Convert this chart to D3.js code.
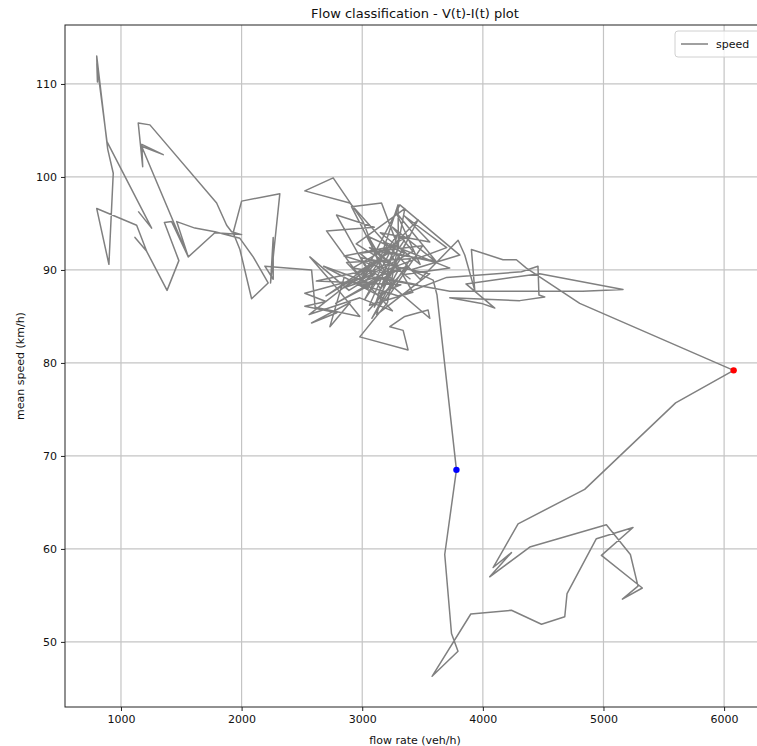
<!DOCTYPE html>
<html>
<head>
<meta charset="utf-8">
<script src="https://cdn.jsdelivr.net/npm/d3@7"></script>
<style>
  body { margin: 0; background: #fff; }
  svg { display: block; }
  text { font-family: "DejaVu Sans", sans-serif; }
</style>
</head>
<body>
<svg id="chart" width="757" height="746"></svg>
<script>
// Trajectory of the traffic state: flow rate (veh/h) against mean speed (km/h), in time order
const flowRate = [
  1143, 1254, 884, 800, 805, 799, 890, 936, 900, 799,
  1130, 1213, 1116, 1213, 1382, 1480, 1360, 1420, 1558, 1171,
  1350, 1173, 1180, 1143, 1240, 1793, 1876, 1917, 2000, 1778,
  1558, 1462, 1613, 1779, 1986, 2096, 2220, 2083, 1986, 1930,
  2000, 2317, 2240, 2262, 2262, 2193, 2580,
  2610, 2980, 2760, 2566, 2890, 3100, 2524, 2700, 2524, 2790,
  2580, 2900, 2732, 2850, 3050, 2704, 3100, 2787, 3020, 3250,
  2911, 3160, 3300, 3297, 3150, 2950, 3353, 3210, 2980, 3380,
  3339, 3229, 3353, 3546, 3560, 3200, 3463, 3000, 3312, 3809,
  3400, 3588, 3620, 3781,
  3684, 3740, 3794, 3579, 3900, 4237, 4486, 4679, 4698, 4941,
  5245, 4983, 5322, 5157, 5286, 5223, 5024, 4389, 4057, 4237,
  4085, 4292, 4844, 5598, 6079,
  4803, 4361, 4278, 4167, 3905, 3933, 3850, 3795, 3480, 3200,
  2897, 2524, 2759, 3007, 3150, 2850, 3280, 3060, 3420, 3180,
  3726, 3350, 3120, 3600, 3250, 3420, 2950, 3300, 3700, 4320,
  4457, 4465, 4513, 4306, 3726, 3989, 4099, 3860, 4471, 5162,
  4828, 3726, 3180, 3100, 3280, 2990, 3150, 3350, 3050, 3230,
  2920, 3400, 3130, 3320, 2620, 3050, 2700, 3180, 2560, 2980,
  3250, 2870, 3400, 3080, 3300, 2780, 3150, 3460, 2940, 3230,
  3020, 3350, 3100, 2680, 3200, 3500, 2980, 3270, 3050, 3380,
  2830, 3190, 3560, 3120, 3290, 3000, 3240, 3700, 3350, 3560,
  3150, 3480, 3280, 3620, 3060, 3400
];
const meanSpeed = [
  96.3, 94.5, 103.8, 112.2, 110.2, 113.0, 103.0, 100.4, 90.6, 96.6,
  94.8, 92.0, 93.5, 92.0, 87.8, 91.0, 95.1, 95.2, 91.4, 103.3,
  102.4, 103.5, 101.1, 105.8, 105.6, 97.2, 94.8, 94.1, 93.8, 94.0,
  91.4, 95.2, 94.5, 94.1, 93.4, 91.4, 88.6, 86.9, 92.2, 94.0,
  97.4, 98.2, 88.6, 93.5, 89.0, 90.4, 90.0,
  86.0, 85.0, 88.5, 91.4, 87.8, 89.5, 87.5, 86.6, 86.1, 85.4,
  84.3, 86.5, 83.9, 89.2, 88.0, 94.2, 94.6, 95.9, 90.5, 88.2,
  96.8, 97.2, 92.4, 97.0, 91.2, 92.8, 96.6, 86.5, 82.8, 81.4,
  83.5, 83.9, 85.0, 85.7, 84.8, 88.8, 95.4, 89.2, 97.0, 91.6,
  90.0, 88.9, 87.3, 68.5,
  59.4, 50.9, 49.0, 46.3, 53.0, 53.4, 51.9, 52.7, 55.2, 61.1,
  62.3, 59.3, 55.8, 54.6, 56.0, 59.4, 62.6, 60.2, 57.0, 59.6,
  58.0, 62.7, 66.4, 75.7, 79.2,
  86.4, 90.2, 91.1, 91.1, 92.2, 87.8, 91.6, 93.2, 89.0, 92.8,
  97.2, 98.5, 99.9, 95.2, 90.3, 91.5, 92.6, 86.2, 87.6, 93.0,
  90.2, 89.5, 92.0, 91.0, 94.6, 92.0, 88.6, 87.2, 89.2, 89.8,
  90.4, 87.3, 87.1, 86.7, 87.0, 86.4, 85.9, 88.5, 89.6, 87.9,
  87.7, 87.7, 89.0, 86.0, 90.6, 91.3, 88.0, 91.8, 93.6, 89.6,
  90.2, 93.8, 87.4, 88.4, 88.8, 90.0, 87.2, 91.5, 85.2, 87.0,
  85.6, 90.8, 91.2, 84.8, 90.0, 86.4, 89.2, 88.4, 89.6, 91.9,
  86.8, 93.2, 88.4, 90.4, 86.8, 92.6, 91.8, 88.8, 85.6, 90.4,
  88.0, 90.6, 89.6, 85.2, 93.8, 88.2, 90.2, 92.4, 95.8, 93.0,
  94.0, 90.6, 96.2, 90.8, 92.4, 89.0
];

// Two highlighted states on the trajectory
const markedFlow = [6079, 3781];
const markedSpeed = [79.2, 68.5];
const markedColor = ["#ff0000", "#0000ff"];

const xTicks = [1000, 2000, 3000, 4000, 5000, 6000];
const yTicks = [50, 60, 70, 80, 90, 100, 110];
const xDomain = [536, 6339];
const yDomain = [43.0, 116.34];

const plot = { left: 65, top: 25, right: 765, bottom: 707 };

const svg = d3.select("#chart");

const x = d3.scaleLinear().domain(xDomain).range([plot.left, plot.right]);
const y = d3.scaleLinear().domain(yDomain).range([plot.bottom, plot.top]);

// grid
const grid = svg.append("g").attr("stroke", "#c4c4c4").attr("stroke-width", 1.2);
grid.selectAll("line.v").data(xTicks).join("line")
  .attr("x1", d => x(d)).attr("x2", d => x(d))
  .attr("y1", plot.top).attr("y2", plot.bottom);
grid.selectAll("line.h").data(yTicks).join("line")
  .attr("x1", plot.left).attr("x2", plot.right)
  .attr("y1", d => y(d)).attr("y2", d => y(d));

// trajectory
const points = flowRate.map((f, i) => [f, meanSpeed[i]]);
const line = d3.line().x(d => x(d[0])).y(d => y(d[1]));
svg.append("path")
  .datum(points)
  .attr("d", line)
  .attr("fill", "none")
  .attr("stroke", "#808080")
  .attr("stroke-width", 1.5)
  .attr("stroke-linejoin", "round");

// highlighted points
svg.selectAll("circle.mark").data(markedFlow).join("circle")
  .attr("class", "mark")
  .attr("cx", d => x(d))
  .attr("cy", (d, i) => y(markedSpeed[i]))
  .attr("r", 3.2)
  .attr("fill", (d, i) => markedColor[i]);

// axes
const xAxis = svg.append("g")
  .attr("transform", `translate(0,${plot.bottom})`)
  .call(d3.axisBottom(x).tickValues(xTicks).tickFormat(d3.format("d")).tickSize(4).tickPadding(4).tickSizeOuter(0));
const yAxis = svg.append("g")
  .attr("transform", `translate(${plot.left},0)`)
  .call(d3.axisLeft(y).tickValues(yTicks).tickFormat(d3.format("d")).tickSize(4).tickPadding(4).tickSizeOuter(0));
[xAxis, yAxis].forEach(g => {
  g.select(".domain").remove();
  g.selectAll("text").attr("font-size", 11).attr("fill", "#111").attr("font-family", "DejaVu Sans, sans-serif");
  g.selectAll("line").attr("stroke", "#222").attr("stroke-width", 1);
});

// frame
svg.append("rect")
  .attr("x", plot.left).attr("y", plot.top)
  .attr("width", plot.right - plot.left).attr("height", plot.bottom - plot.top)
  .attr("fill", "none").attr("stroke", "#222").attr("stroke-width", 1);

// title and axis labels
svg.append("text")
  .attr("x", (plot.left + plot.right) / 2).attr("y", 18)
  .attr("text-anchor", "middle").attr("font-size", 13).attr("fill", "#111")
  .text("Flow classification - V(t)-I(t) plot");
svg.append("text")
  .attr("x", (plot.left + plot.right) / 2).attr("y", 744)
  .attr("text-anchor", "middle").attr("font-size", 11).attr("fill", "#111")
  .text("flow rate (veh/h)");
svg.append("text")
  .attr("transform", `translate(24,${(plot.top + plot.bottom) / 2}) rotate(-90)`)
  .attr("text-anchor", "middle").attr("font-size", 11).attr("fill", "#111")
  .text("mean speed (km/h)");

// legend
const legend = svg.append("g").attr("transform", "translate(675,31)");
legend.append("rect")
  .attr("width", 100).attr("height", 26).attr("rx", 3)
  .attr("fill", "#fff").attr("fill-opacity", 0.8)
  .attr("stroke", "#d0d0d0");
legend.append("line")
  .attr("x1", 6).attr("x2", 33).attr("y1", 13).attr("y2", 13)
  .attr("stroke", "#808080").attr("stroke-width", 1.5);
legend.append("text")
  .attr("x", 41).attr("y", 17).attr("font-size", 11).attr("fill", "#111")
  .text("speed");
</script>
</body>
</html>
